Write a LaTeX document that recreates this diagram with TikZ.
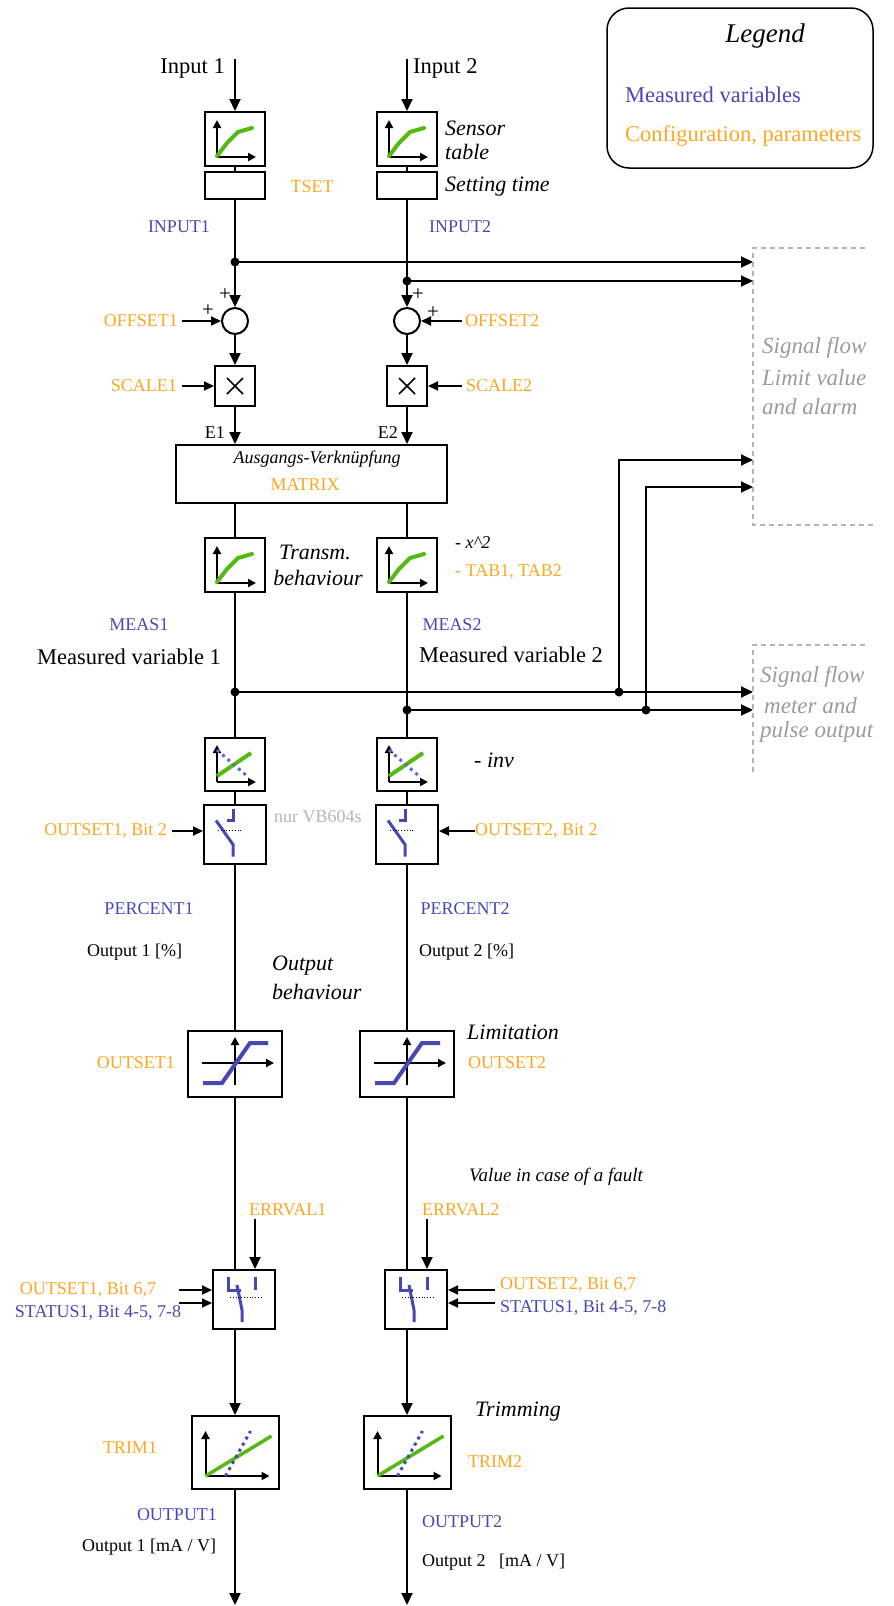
\documentclass[tikz,border=0pt]{standalone}
\usepackage{fontspec}
\setmainfont{Liberation Serif}
\usetikzlibrary{arrows.meta}
\definecolor{mblue}{RGB}{72,72,178}
\definecolor{morange}{RGB}{250,168,35}
\definecolor{mgreen}{RGB}{85,185,20}
\definecolor{mgray}{RGB}{155,155,155}
\definecolor{lgray}{RGB}{180,180,180}
\definecolor{dblue}{RGB}{90,110,200}
\newcommand\fbig{\fontsize{22.5}{26}\selectfont}
\newcommand\fsm{\fontsize{18}{21}\selectfont}
\newcommand\fit{\fontsize{22}{26}\selectfont\itshape}
\newcommand\curvesym[2]{%
\begin{scope}[shift={(#1,#2)}]
\draw[axarr] (-18,18) -- (-18,-19);
\draw[axarr] (-18,18) -- (21,18);
\draw[mgreen,line width=4pt,line cap=round,line join=round] (-18,17) -- (-8,4) -- (3,-7) -- (17,-11);
\end{scope}}
\newcommand\invsym[2]{%
\begin{scope}[shift={(#1,#2)}]
\draw[axarr] (-18,17.5) -- (-18,-19.5);
\draw[axarr] (-18,17.5) -- (21,17.5);
\draw[mgreen,line width=4pt] (-18,11.5) -- (16,-11.5);
\draw[dblue,line width=3pt,dash pattern=on 3pt off 4pt] (-18,-14.5) -- (12,11.5);
\end{scope}}
\newcommand\swsym[2]{%
\begin{scope}[shift={(#1,#2)}]
\draw[mblue,line width=3pt] (-2,-26) -- (-2,-14) -- (-8,-14);
\draw[mblue,line width=3pt] (-19,-14) -- (-2,10) -- (-2,22);
\draw[line width=0.8pt,dotted] (-17,-4) -- (7,-4);
\end{scope}}
\newcommand\errsym[2]{%
\begin{scope}[shift={(#1,#2)}]
\draw[mblue,line width=3pt] (-7,7) -- (-7,20) -- (6,20);
\draw[mblue,line width=3pt] (2,15) -- (7,40) -- (7,52);
\draw[mblue,line width=3pt] (20,7) -- (20,20);
\draw[line width=0.8pt,dotted] (-5,27) -- (26,27);
\end{scope}}
\newcommand\limsym[2]{%
\begin{scope}[shift={(#1,#2)}]
\draw[axarr] (-33,-1) -- (39,-1);
\draw[axarr] (0,21) -- (0,-27);
\draw[mblue,line width=4pt] (-32,19) -- (-13,19) -- (15,-21) -- (33,-21);
\end{scope}}
\newcommand\trimsym[2]{%
\begin{scope}[shift={(#1,#2)}]
\draw[axarr] (-29.5,23.5) -- (-29.5,-21.5);
\draw[axarr] (-29.5,23.5) -- (34.5,23.5);
\draw[mgreen,line width=3.5pt] (-29.5,23.5) -- (36.5,-16.5);
\draw[mblue,line width=3pt,dash pattern=on 3pt off 4pt] (-9.5,23.5) -- (15.5,-21.5);
\end{scope}}
\begin{document}
\begin{tikzpicture}[x=1pt,y=-1pt,
 ln/.style={line width=2pt},
 arr/.style={line width=2pt,-{Triangle[length=12pt,width=11pt]}},
 sarr/.style={line width=2pt,-{Triangle[length=10pt,width=9pt]}},
 axarr/.style={line width=2pt,-{Triangle[length=8pt,width=8pt]}},
 blk/.style={draw,line width=2pt,inner sep=0pt,fill=white},
 lbl/.style={inner sep=0pt,font=\fsm},
 tb/.style={inner sep=0pt,font=\fbig},
 ti/.style={inner sep=0pt,font=\fit},
 cfg/.style={lbl,text=morange},
 mv/.style={lbl,text=mblue},
 pls/.style={inner sep=0pt,font=\fontsize{21}{24}\selectfont},
 dbox/.style={lgray,line width=1.2pt,dash pattern=on 5pt off 4pt},
 gi/.style={inner sep=0pt,font=\fontsize{23}{27}\selectfont\itshape,text=mgray},
 sumc/.style={circle,draw,line width=2pt,minimum size=26pt,inner sep=0pt,fill=white}
]
\useasboundingbox (0,0) rectangle (894,1606);
\def\L{235}\def\R{407}
% Legend
\node[draw,line width=1.5pt,rounded corners=22pt,minimum width=266pt,minimum height=160pt,inner sep=0pt] (leg) at (740,88) {};
\node[lbl,font=\fontsize{27}{30}\selectfont\itshape] (legt) at (765,36) {Legend};
\node[mv,font=\fbig,anchor=west] (legm) at (625,95) {Measured variables};
\node[cfg,font=\fbig,anchor=west] (legc) at (625,136) {Configuration, parameters};
% dashed target boxes
\draw[dbox] (865,248) -- (753,248) -- (753,525) -- (873,525);
\draw[dbox] (865,645) -- (753,645) -- (753,773);
\node[gi,anchor=west] (sfa1) at (762,348) {Signal flow};
\node[gi,anchor=west] (sfa2) at (762,378) {Limit value};
\node[gi,anchor=west] (sfa3) at (762,407) {and alarm};
\node[gi,anchor=west] (sfb1) at (760,677) {Signal flow};
\node[gi,anchor=west] (sfb2) at (764,706) {meter and};
\node[gi,anchor=west] (sfb3) at (760,732) {pulse output};
\coordinate (sfA) at (753,0);
% inputs and sensor tables
\node[tb,anchor=east] (in1t) at (225,68) {Input 1};
\node[tb,anchor=west] (in2t) at (413,68) {Input 2};
\coordinate (in1) at (\L,59); \coordinate (in2) at (\R,59);
\node[blk,minimum width=60pt,minimum height=54pt] (s1) at (\L,139) {};
\node[blk,minimum width=60pt,minimum height=54pt] (s2) at (\R,139) {};
\node[blk,minimum width=60pt,minimum height=27pt] (ts1) at (\L,185.5) {};
\node[blk,minimum width=60pt,minimum height=27pt] (ts2) at (\R,185.5) {};
\draw[arr] (in1) -- (s1); \draw[arr] (in2) -- (s2);
\draw[ln] (s1) -- (ts1); \draw[ln] (s2) -- (ts2);
\curvesym{\L}{139}\curvesym{\R}{139}
\node[ti,anchor=west] (st1) at (445,128) {Sensor};
\node[ti,anchor=west] (st2) at (445,152) {table};
\node[ti,anchor=west] (stt) at (445,187) {Setting time};
\node[cfg] (tset) at (312,187) {TSET};
\node[mv] (inp1) at (179,227) {INPUT1};
\node[mv,anchor=west] (inp2) at (429,227) {INPUT2};
% junctions and sums
\coordinate (j1) at (\L,262); \coordinate (j2) at (\R,281);
\node[sumc] (c1) at (\L,321) {};
\node[sumc] (c2) at (\R,321) {};
\draw[ln] (ts1) -- (j1); \draw[ln] (ts2) -- (j2);
\draw[arr] (j1) -- (c1); \draw[arr] (j2) -- (c2);
\draw[arr] (j1) -- (j1 -| sfA);
\draw[arr] (j2) -- (j2 -| sfA);
\fill (j1) circle (4.5pt); \fill (j2) circle (4.5pt);
\node[pls] (p1a) at (225,295) {+};
\node[pls] (p1b) at (208,311) {+};
\node[pls] (p2a) at (418,295) {+};
\node[pls] (p2b) at (433,313) {+};
\node[cfg,anchor=east] (off1) at (178,321) {OFFSET1};
\node[cfg,anchor=west] (off2) at (465,321) {OFFSET2};
\draw[sarr] ([xshift=4pt]off1.east) -- (c1.west);
\draw[sarr] ([xshift=-3pt]off2.west) -- (c2.east);
% scaling
\node[blk,minimum size=40pt] (m1) at (\L,386) {};
\node[blk,minimum size=40pt] (m2) at (\R,386) {};
\foreach \n in {m1,m2}{
 \draw[line width=1.5pt] ([shift={(-8,-8)}]\n.center) -- ([shift={(8,8)}]\n.center);
 \draw[line width=1.5pt] ([shift={(-8,8)}]\n.center) -- ([shift={(8,-8)}]\n.center);}
\draw[arr] (c1) -- (m1); \draw[arr] (c2) -- (m2);
\node[cfg,anchor=east] (sc1) at (177,386) {SCALE1};
\node[cfg,anchor=west] (sc2) at (466,386) {SCALE2};
\draw[sarr] ([xshift=5pt]sc1.east) -- (m1.west);
\draw[sarr] ([xshift=-4pt]sc2.west) -- (m2.east);
% matrix
\node[blk,minimum width=271pt,minimum height=58pt] (mx) at (311.5,474) {};
\node[lbl,font=\fontsize{18}{21}\selectfont\itshape] (mxa) at (317,459) {Ausgangs-Verknüpfung};
\node[cfg] (mxb) at (305,485) {MATRIX};
\draw[arr] (m1) -- (m1 |- mx.north);
\draw[arr] (m2) -- (m2 |- mx.north);
\node[lbl,anchor=east] (e1) at (225,433) {E1};
\node[lbl,anchor=east] (e2) at (398,433) {E2};
% transmission behaviour
\node[blk,minimum width=60pt,minimum height=54pt] (tr1) at (\L,565) {};
\node[blk,minimum width=60pt,minimum height=54pt] (tr2) at (\R,565) {};
\draw[ln] (tr1 |- mx.south) -- (tr1);
\draw[ln] (tr2 |- mx.south) -- (tr2);
\curvesym{\L}{565}\curvesym{\R}{565}
\node[ti] (trt1) at (315,552) {Transm.};
\node[ti] (trt2) at (318,578) {behaviour};
\node[lbl,font=\fontsize{18}{21}\selectfont\itshape,anchor=west] (x2) at (455,543) {- x\textasciicircum 2};
\node[cfg,anchor=west] (tab) at (455,572) {- TAB1, TAB2};
\node[mv] (meas1) at (139,625) {MEAS1};
\node[mv] (meas2) at (452,625) {MEAS2};
\node[tb,anchor=west] (mv1) at (37,657) {Measured variable 1};
\node[tb,anchor=west] (mv2) at (419,655) {Measured variable 2};
% meter branches
\coordinate (jm1) at (\L,692); \coordinate (jm2) at (\R,710);
\coordinate (k1) at (619,692); \coordinate (k2) at (646,710);
\coordinate (k1t) at (619,460); \coordinate (k2t) at (646,487);
\draw[arr] (jm1) -- (jm1 -| sfA);
\draw[arr] (jm2) -- (jm2 -| sfA);
\draw[arr] (k1) -- (k1t) -- (k1t -| sfA);
\draw[arr] (k2) -- (k2t) -- (k2t -| sfA);
\foreach \c in {jm1,jm2,k1,k2} {\fill (\c) circle (4.5pt);}
% inversion and switch
\node[blk,minimum width=60pt,minimum height=53pt] (iv1) at (\L,764.5) {};
\node[blk,minimum width=60pt,minimum height=53pt] (iv2) at (\R,764.5) {};
\draw[ln] (tr1) -- (jm1) -- (iv1);
\draw[ln] (tr2) -- (jm2) -- (iv2);
\invsym{\L}{764.5}\invsym{\R}{764.5}
\node[ti,anchor=west] (inv) at (474,760) {- inv};
\node[blk,minimum width=62pt,minimum height=59pt] (sw1) at (\L,834.5) {};
\node[blk,minimum width=62pt,minimum height=59pt] (sw2) at (\R,834.5) {};
\draw[ln] (iv1) -- (sw1); \draw[ln] (iv2) -- (sw2);
\swsym{\L}{834.5}\swsym{\R}{834.5}
\node[lbl,text=lgray,anchor=west] (vb) at (274,817) {nur VB604s};
\node[cfg,anchor=east] (ob1) at (167,831) {OUTSET1, Bit 2};
\node[cfg,anchor=west] (ob2) at (475,831) {OUTSET2, Bit 2};
\draw[sarr] ([xshift=5pt]ob1.east) -- (ob1.east -| sw1.west);
\draw[sarr] (ob2.west) -- (ob2.west -| sw2.east);
\node[mv] (pc1) at (149,909) {PERCENT1};
\node[mv] (pc2) at (465,909) {PERCENT2};
\node[lbl,anchor=west] (o1p) at (87,952) {Output 1 [\%]};
\node[lbl,anchor=west] (o2p) at (419,952) {Output 2 [\%]};
\node[ti,anchor=west] (obh1) at (272,966) {Output};
\node[ti,anchor=west] (obh2) at (272,992) {behaviour};
% limitation
\node[blk,minimum width=94pt,minimum height=66pt] (lm1) at (\L,1064) {};
\node[blk,minimum width=94pt,minimum height=66pt] (lm2) at (\R,1064) {};
\draw[ln] (sw1) -- (lm1); \draw[ln] (sw2) -- (lm2);
\limsym{\L}{1064}\limsym{\R}{1064}
\node[cfg,anchor=east] (os1) at (175,1063) {OUTSET1};
\node[cfg,anchor=west] (os2) at (468,1063) {OUTSET2};
\node[ti,anchor=west] (lim) at (467,1032) {Limitation};
% fault value
\node[blk,minimum width=62pt,minimum height=59pt] (er1) at (\L+9,1299.5) {};
\node[blk,minimum width=62pt,minimum height=59pt] (er2) at (\R+9,1299.5) {};
\draw[ln] (lm1.south) -- (lm1.south |- er1.north);
\draw[ln] (lm2.south) -- (lm2.south |- er2.north);
\errsym{\L}{1270}\errsym{\R}{1270}
\node[lbl,font=\fontsize{19}{22}\selectfont\itshape,anchor=west] (vf) at (469,1177) {Value in case of a fault};
\node[cfg,anchor=west] (ev1) at (249,1210) {ERRVAL1};
\node[cfg,anchor=west] (ev2) at (422,1210) {ERRVAL2};
\coordinate (ea1) at (\L+20,1219); \coordinate (ea2) at (\R+20,1219);
\draw[arr] (ea1) -- (ea1 |- er1.north);
\draw[arr] (ea2) -- (ea2 |- er2.north);
\node[cfg] (eb1) at (88,1290) {OUTSET1, Bit 6,7};
\node[mv] (es1) at (98,1313) {STATUS1, Bit 4-5, 7-8};
\node[cfg,anchor=west] (eb2) at (500,1285) {OUTSET2, Bit 6,7};
\node[mv,anchor=west] (es2) at (500,1308) {STATUS1, Bit 4-5, 7-8};
\coordinate (oa1) at (179,1290); \coordinate (oc1) at (179,1303);
\coordinate (oa2) at (495,1290); \coordinate (oc2) at (495,1303);
\draw[sarr] (oa1) -- (oa1 -| er1.west);
\draw[sarr] (oc1) -- (oc1 -| er1.west);
\draw[sarr] (oa2) -- (oa2 -| er2.east);
\draw[sarr] (oc2) -- (oc2 -| er2.east);
% trimming
\node[blk,minimum width=87pt,minimum height=73pt] (tm1) at (\L,1452.5) {};
\node[blk,minimum width=87pt,minimum height=73pt] (tm2) at (\R,1452.5) {};
\draw[arr] (lm1.south |- er1.south) -- (tm1);
\draw[arr] (lm2.south |- er2.south) -- (tm2);
\trimsym{\L}{1452.5}\trimsym{\R}{1452.5}
\node[cfg] (trm1) at (130,1448) {TRIM1};
\node[cfg,anchor=west] (trm2) at (468,1462) {TRIM2};
\node[ti,anchor=west] (trmt) at (475,1412) {Trimming};
\coordinate (out1) at (\L,1605); \coordinate (out2) at (\R,1605);
\draw[arr] (tm1) -- (out1); \draw[arr] (tm2) -- (out2);
\node[mv] (op1) at (177,1515) {OUTPUT1};
\node[lbl] (opu1) at (149,1547) {Output 1 [mA / V]};
\node[mv,anchor=west] (op2) at (422,1522) {OUTPUT2};
\node[lbl,anchor=west] (opu2) at (422,1562) {Output 2 \ \ [mA / V]};
\end{tikzpicture}
\end{document}
